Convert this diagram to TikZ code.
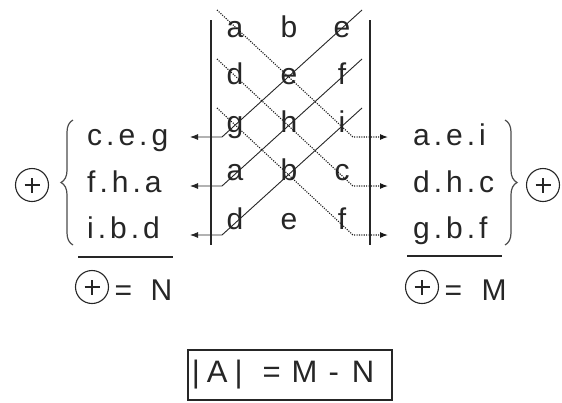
\documentclass[tikz,border=0pt]{standalone}
\usepackage{fontspec}
\setmainfont{Liberation Sans}
\usetikzlibrary{arrows.meta,decorations.pathreplacing}
\newcommand\dsep{\kern4pt.\kern4pt}
\begin{document}
\begin{tikzpicture}[x=1pt,y=-1pt,
  letter/.style={anchor=base, inner sep=0pt, font=\fontsize{30}{36}\selectfont, text=black!85},
  side/.style={anchor=base west, inner sep=0pt, font=\fontsize{30}{36}\selectfont, text=black!85},
  solidlink/.style={draw=black!85, line width=0.9pt, -{Latex[length=8pt,width=6pt]}},
  dotlink/.style={draw=black!90, line width=1.1pt, dash pattern=on 1.1pt off 1.3pt, -{Latex[length=8pt,width=6pt]}},
  rail/.style={draw=black!85, line width=1.6pt},
  oplus/.style={circle, draw=black!85, line width=1.1pt, minimum size=33pt, inner sep=0pt,
    path picture={\draw[line width=1.1pt,black!85]
      ([xshift=-7.5pt]path picture bounding box.center) -- ([xshift=7.5pt]path picture bounding box.center)
      ([yshift=-7.5pt]path picture bounding box.center) -- ([yshift=7.5pt]path picture bounding box.center);}},
  bracket/.style={draw=black!70, line width=1.2pt, decorate, decoration={brace, amplitude=12pt}},
  ]
\fill[white] (0,0) rectangle (562,402);
\useasboundingbox (0,0) rectangle (562,402);

% grid letters
\foreach \r/\y/\la/\lb/\lc in {1/37/a/b/e, 2/84/d/e/f, 3/132/g/h/i, 4/180/a/b/c, 5/229/d/e/f}{
  \node[letter] (g\r a) at (235,\y) {\la};
  \node[letter] (g\r b) at (289,\y) {\lb};
  \node[letter] (g\r c) at (342,\y) {\lc};
}

% rails
\coordinate (lt) at (211,20); \coordinate (lb) at (211,245);
\coordinate (rt) at (370,20); \coordinate (rb) at (370,245);
\draw[rail] (lt) -- (lb);
\draw[rail] (rt) -- (rb);

% crossing links
\foreach \k/\ys/\ye in {1/10/137, 2/59/186, 3/108/235}{
  \coordinate (ss\k) at (362,\ys); \coordinate (sb\k) at (222,\ye); \coordinate (st\k) at (190,\ye);
  \draw[solidlink] (ss\k) -- (sb\k) -- (st\k);
  \coordinate (ds\k) at (217,\ys); \coordinate (db\k) at (353,\ye); \coordinate (dt\k) at (388,\ye);
  \draw[dotlink] (ds\k) -- (db\k) -- (dt\k);
}

% side products
\node[side] (l1) at (87,145) {c\dsep e\dsep g};
\node[side] (l2) at (87,192) {f\dsep h\dsep a};
\node[side] (l3) at (87,238) {i\dsep b\dsep d};
\node[side] (r1) at (413,145) {a\dsep e\dsep i};
\node[side] (r2) at (413,192) {d\dsep h\dsep c};
\node[side] (r3) at (413,238) {g\dsep b\dsep f};

% braces
\coordinate (lbb) at (73,245); \coordinate (lbt) at (73,120);
\draw[bracket] (lbb) -- (lbt);
\coordinate (rbt) at (505,120); \coordinate (rbb) at (505,245);
\draw[bracket] (rbt) -- (rbb);

\node[oplus] (pl) at (32,185) {};
\node[oplus] (pr) at (543,185) {};

% rules
\coordinate (lr1) at (78,257); \coordinate (lr2) at (173,257);
\coordinate (rr1) at (407,256); \coordinate (rr2) at (502,256);
\draw[rail] (lr1) -- (lr2);
\draw[rail] (rr1) -- (rr2);

% sums
\node[oplus] (nl) at (92,287) {};
\node[letter] (eql) at (123.5,300) {=};
\node[letter] (nn) at (161.5,300) {N};
\node[oplus] (nr) at (422,287) {};
\node[letter] (eqr) at (453.5,300) {=};
\node[letter] (mm) at (494,300) {M};

% result
\node[draw=black!85, line width=1.3pt, minimum width=204pt, minimum height=50pt, inner sep=0pt,
  font=\fontsize{31}{36}\selectfont, text=black!85] (res) at (290,375)
  {|\kern7pt A\kern7pt|\kern20pt=\kern11pt M\kern11pt-\kern13pt N\kern14pt};
\end{tikzpicture}
\end{document}
